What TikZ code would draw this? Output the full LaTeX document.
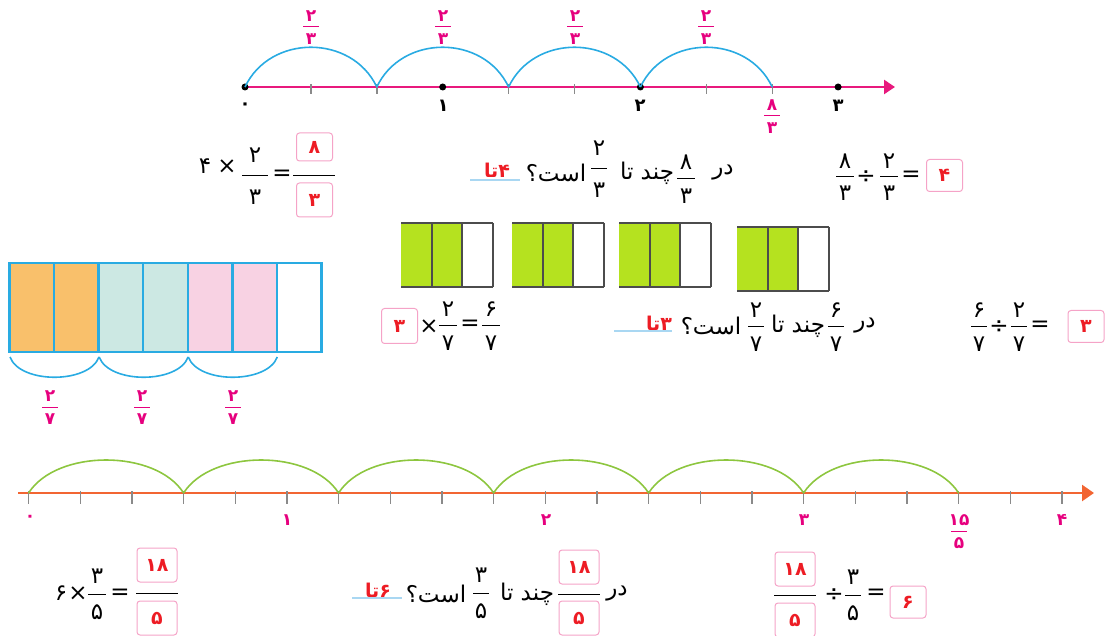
\documentclass[tikz,border=0pt]{standalone}
\usepackage{fontspec}
\newfontfamily\pfont[Script=Arabic]{DejaVu Sans}
\TeXXeTstate=1
\usepackage{xcolor}
\definecolor{linepink}{HTML}{E8197D}
\definecolor{labpink}{HTML}{E6007E}
\definecolor{hopblue}{HTML}{29ABE2}
\definecolor{tickgray}{HTML}{8A8A8A}
\definecolor{lineorange}{HTML}{F26532}
\definecolor{hopgreen}{HTML}{8DC63F}
\definecolor{barlime}{HTML}{B5E21F}
\definecolor{boxpink}{HTML}{F5A3C7}
\definecolor{ansred}{HTML}{ED1C24}
\definecolor{ulblue}{HTML}{A9D7F2}
\definecolor{barorange}{HTML}{F9C06B}
\definecolor{barteal}{HTML}{CCE8E3}
\definecolor{barpink}{HTML}{F8D2E3}
\usetikzlibrary{arrows.meta}

% fraction with plain digits: name, x, y, gap, half bar, num, den
\newcommand{\fr}[7]{%
  \node[dig] (#1-n) at (#2,#3-#4) {#6};
  \node[dig] (#1-d) at (#2,#3+#4) {#7};
  \draw[fbar] (#2-#5,#3) -- (#2+#5,#3);}
% small pink fraction on the number lines: name, x, y, num, den
\newcommand{\lf}[5]{%
  \node[lbl] (#1-n) at (#2,#3-11) {#4};
  \node[lbl] (#1-d) at (#2,#3+12) {#5};
  \draw[lbl,fbar] (#2-8,#3) -- (#2+8,#3);}

\begin{document}
\begin{tikzpicture}[x=1pt,y=-1pt,
  dig/.style={font=\pfont\fontsize{23}{26}\selectfont, inner sep=0pt},
  word/.style={font=\pfont\fontsize{23}{26}\selectfont, inner sep=0pt},
  lbl/.style={font=\pfont\bfseries\fontsize{17}{19}\selectfont, color=labpink, inner sep=0pt},
  num/.style={font=\pfont\bfseries\fontsize{18}{20}\selectfont, inner sep=0pt},
  ans/.style={font=\pfont\bfseries\fontsize{19}{22}\selectfont, text=ansred, inner sep=0pt},
  ansbox/.style={ans, draw=boxpink, line width=1pt, rounded corners=3pt, minimum width=36pt, minimum height=32pt},
  fbar/.style={line width=1pt},
  uline/.style={ulblue, line width=1.3pt},
  tick/.style={tickgray, line width=1.4pt},
  hop/.style={hopblue, line width=1.6pt},
  jump/.style={hopgreen, line width=1.6pt},
  cell/.style={black!70, line width=2pt}]
  \useasboundingbox (0,0) rectangle (1106,636);

  % top number line, steps of 2/3
  \draw[linepink, line width=2.5pt, -{Triangle[length=11pt,width=14pt]}] (243,87) -- (895,87);
  \foreach \k in {1,2,4,5,7,8} \draw[tick] (245+65.9*\k,84) -- (245+65.9*\k,94);
  \foreach \k in {0,3,6,9} \fill (245+65.9*\k,87) circle[radius=3.5];
  \foreach \k in {0,2,4,6}
    \draw[hop] (245+65.9*\k,87) .. controls +(25,-53) and +(-25,-53) .. (245+65.9*\k+131.8,87);
  \lf{t1}{311}{27}{۲}{۳}
  \lf{t2}{443}{27}{۲}{۳}
  \lf{t3}{575}{27}{۲}{۳}
  \lf{t4}{706}{27}{۲}{۳}
  \node[num] (z0) at (245,106) {۰};
  \node[num] (z1) at (443,106) {۱};
  \node[num] (z2) at (640,106) {۲};
  \node[num] (z3) at (838,106) {۳};
  \lf{e83}{772}{116}{۸}{۳}

  % 4 x 2/3
  \node[dig] (m4) at (205,166) {۴};
  \node[dig] (mx) at (227,167) {×};
  \fr{m23}{255}{176}{21}{13}{۲}{۳}
  \node[dig] (meq) at (282,175) {=};
  \node[ansbox, minimum height=28pt] (m8) at (314.5,147) {۸};
  \node[ansbox, minimum height=34pt] (m3) at (314.5,200) {۳};
  \draw[fbar] (293,176) -- (335,176);

  % how many 2/3 in 8/3
  \node[word] (q1) at (723,173) {\beginR در\endR};
  \fr{q83}{686}{179}{17}{9}{۸}{۳}
  \node[word] (q2) at (647,173) {\beginR چند تا\endR};
  \fr{q23}{599}{169}{21}{8}{۲}{۳}
  \node[word] (q3) at (556,173) {\beginR است؟\endR};
  \node[ans] (q4) at (497,170) {\beginR ۴تا\endR};
  \draw[uline] (470,180) -- (520,180);

  % 8/3 : 2/3
  \fr{d83}{845}{177}{16}{9}{۸}{۳}
  \node[dig] (dd) at (866,177) {÷};
  \fr{d23}{889}{177}{16}{9}{۲}{۳}
  \node[dig] (deq) at (911,176) {=};
  \node[ansbox] (d4) at (944.5,175.5) {۴};

  % green bars
  \foreach \bx/\by in {401/223, 512/223, 619/223, 737/227} {
    \fill[barlime] (\bx,\by) rectangle (\bx+61.3,\by+64);
    \draw[cell] (\bx,\by) -- (\bx+92,\by) (\bx,\by+64) -- (\bx+92,\by+64);
    \foreach \c in {30.7,61.3,92} \draw[cell] (\bx+\c,\by) -- (\bx+\c,\by+64);
  }

  % bar of sevenths
  \foreach \i/\c in {0/barorange,1/barorange,2/barteal,3/barteal,4/barpink,5/barpink,6/white}
    \filldraw[fill=\c, draw=hopblue, line width=2.5pt] (9.5+44.57*\i,263) rectangle ++(44.57,89);
  \foreach \a in {0,2,4}
    \draw[hop] (10+44.57*\a,357) .. controls +(10,27) and +(-10,27) .. (10+44.57*\a+89,357);
  \lf{w1}{50}{407}{۲}{۷}
  \lf{w2}{142}{407}{۲}{۷}
  \lf{w3}{233}{407}{۲}{۷}

  % 3 x 2/7
  \node[ansbox, minimum height=35pt] (k3) at (399.5,326) {۳};
  \node[dig] (kx) at (429,327) {×};
  \fr{k27}{448}{326}{17}{9}{۲}{۷}
  \node[dig] (keq) at (470,325) {=};
  \fr{k67}{491}{326}{17}{9}{۶}{۷}

  % how many 2/7 in 6/7
  \node[word] (p1) at (865,326) {\beginR در\endR};
  \fr{p67}{836}{327}{17}{8}{۶}{۷}
  \node[word] (p2) at (798,326) {\beginR چند تا\endR};
  \fr{p27}{756}{327}{17}{8}{۲}{۷}
  \node[word] (p3) at (711,326) {\beginR است؟\endR};
  \node[ans] (p4) at (659,323) {\beginR ۳تا\endR};
  \draw[uline] (614,331) -- (672,331);

  % 6/7 : 2/7
  \fr{h67}{979}{327}{17}{8}{۶}{۷}
  \node[dig] (hd) at (999,327) {÷};
  \fr{h27}{1019}{327}{17}{8}{۲}{۷}
  \node[dig] (heq) at (1040,326) {=};
  \node[ansbox] (h3) at (1086,326.5) {۳};

  % bottom number line, steps of 3/5
  \draw[lineorange, line width=2.5pt, -{Triangle[length=12pt,width=16pt]}] (18,493) -- (1094,493);
  \foreach \k in {0,...,20} \draw[tick] (28.6+51.67*\k,491) -- (28.6+51.67*\k,504);
  \foreach \k in {0,...,5}
    \draw[jump] (28.6+155*\k,493) .. controls +(28,-44) and +(-28,-44) .. (28.6+155*\k+155,493);
  \node[lbl] (y0) at (30,518) {۰};
  \node[lbl] (y1) at (287,520) {۱};
  \node[lbl] (y2) at (546,520) {۲};
  \node[lbl] (y3) at (804,520) {۳};
  \node[lbl] (y4) at (1062,520) {۴};
  \lf{y155}{959}{531}{۱۵}{۵}

  % 6 x 3/5
  \node[dig] (s6) at (61,593) {۶};
  \node[dig] (sx) at (78,594) {×};
  \fr{s35}{97}{594}{18}{9}{۳}{۵}
  \node[dig] (seq) at (120,594) {=};
  \node[ansbox, minimum width=40pt, minimum height=34pt] (s18) at (157,565) {۱۸};
  \node[ansbox, minimum width=40pt, minimum height=34pt] (s5) at (157,618) {۵};
  \draw[fbar] (136,593) -- (178,593);

  % how many 3/5 in 18/5
  \node[word] (r1) at (617,594) {\beginR در\endR};
  \node[ansbox, minimum width=40pt, minimum height=34pt] (r18) at (579,567) {۱۸};
  \node[ansbox, minimum width=40pt, minimum height=34pt] (r5) at (579,618) {۵};
  \draw[fbar] (558,594) -- (600,594);
  \node[word] (r2) at (527,594) {\beginR چند تا\endR};
  \fr{r35}{481}{593}{18}{8}{۳}{۵}
  \node[word] (r3) at (436,594) {\beginR است؟\endR};
  \node[ans] (r4) at (378,590) {\beginR ۶تا\endR};
  \draw[uline] (352,598) -- (402,598);

  % 18/5 : 3/5
  \node[ansbox, minimum width=40pt, minimum height=34pt] (v18) at (795,569) {۱۸};
  \node[ansbox, minimum width=40pt, minimum height=34pt] (v5) at (795,620) {۵};
  \draw[fbar] (774,595) -- (816,595);
  \node[dig] (vd) at (834,595) {÷};
  \fr{v35}{853}{595}{18}{8}{۳}{۵}
  \node[dig] (veq) at (876,594) {=};
  \node[ansbox] (v6) at (908,602) {۶};
\end{tikzpicture}
\end{document}
